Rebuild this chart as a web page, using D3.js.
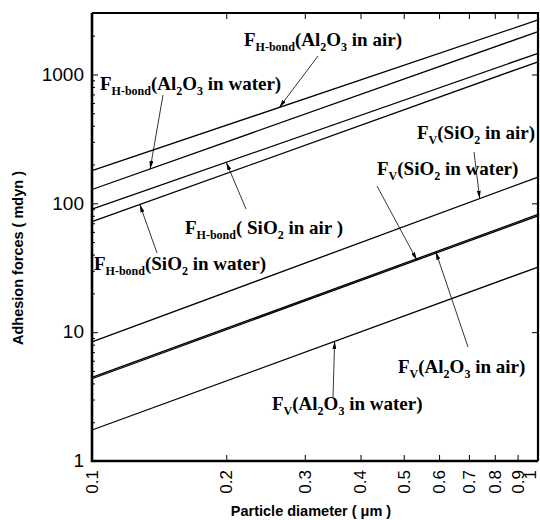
<!DOCTYPE html>
<html>
<head>
<meta charset="utf-8">
<script src="https://cdn.jsdelivr.net/npm/d3@7"></script>
<style>
  body { margin: 0; background: #fff; }
  svg { display: block; }
</style>
</head>
<body>
<div id="container"></div>
<script>
// particle diameter (um) at both ends of every line
let diameters = [0.1, 1];

// adhesion forces (mdyn) at d = 0.1 and d = 1
let hAl2O3Air = [179, 2650];
let hAl2O3Water = [128, 2150];
let hSiO2Air = [90, 1460];
let hSiO2Water = [72, 1255];
let vSiO2Air = [8.4, 160];
let vSiO2Water = [4.35, 80];
let vAl2O3Air = [4.45, 82];
let vAl2O3Water = [1.74, 32];

let xTicks = [0.1, 0.2, 0.3, 0.4, 0.5, 0.6, 0.7, 0.8, 0.9, 1];
let yMajor = [1, 10, 100, 1000];

let series = [hAl2O3Air, hAl2O3Water, hSiO2Air, hSiO2Water,
              vSiO2Air, vSiO2Water, vAl2O3Air, vAl2O3Water];

// labels: segments of [text, subscript?]
let labels = [
    { seg: [["F"], ["H-bond", 1], ["(Al"], ["2", 1], ["O"], ["3", 1], [" in air)"]], tx: 244, ty: 46, ax: 318, ay: 56, on: hAl2O3Air, at: 0.263 },
    { seg: [["F"], ["H-bond", 1], ["(Al"], ["2", 1], ["O"], ["3", 1], [" in water)"]], tx: 100, ty: 90, ax: 163, ay: 95, on: hAl2O3Water, at: 0.135 },
    { seg: [["F"], ["H-bond", 1], ["( SiO"], ["2", 1], [" in air )"]], tx: 185, ty: 234, ax: 246, ay: 209, on: hSiO2Air, at: 0.2 },
    { seg: [["F"], ["H-bond", 1], ["(SiO"], ["2", 1], [" in water)"]], tx: 94, ty: 270, ax: 157, ay: 253, on: hSiO2Water, at: 0.128 },
    { seg: [["F"], ["V", 1], ["(SiO"], ["2", 1], [" in air)"]], tx: 417, ty: 139, ax: 474, ay: 152, on: vSiO2Air, at: 0.74 },
    { seg: [["F"], ["V", 1], ["(SiO"], ["2", 1], [" in water)"]], tx: 377, ty: 175, ax: 377, ay: 186, on: vSiO2Water, at: 0.535 },
    { seg: [["F"], ["V", 1], ["(Al"], ["2", 1], ["O"], ["3", 1], [" in air)"]], tx: 398, ty: 373, ax: 468, ay: 347, on: vAl2O3Air, at: 0.59 },
    { seg: [["F"], ["V", 1], ["(Al"], ["2", 1], ["O"], ["3", 1], [" in water)"]], tx: 272, ty: 410, ax: 333, ay: 397, on: vAl2O3Water, at: 0.35 }
];

let width = 540;
let height = 520;
let mLeft = 92, mRight = 538, mTop = 13, mBottom = 461;

let svg = d3.select('#container')
    .append("svg")
    .attr("width", width)
    .attr("height", height);

let x = d3.scaleLog().domain([0.1, 1]).range([mLeft, mRight]);
let y = d3.scaleLog().domain([1, 3000]).range([mBottom, mTop]);

//lines
let line = d3.line()
    .x((d, i) => x(diameters[i]))
    .y(d => y(d));

svg.selectAll("path.series")
    .data(series)
    .enter()
    .append("path")
    .attr("class", "series")
    .attr("d", line)
    .attr("fill", "none")
    .attr("stroke", "#000")
    .attr("stroke-width", 1.3);

//axes with inward ticks
let yMinor = [];
for (let p = 0; p < 4; p++) {
    for (let m = 2; m <= 9; m++) {
        let v = m * Math.pow(10, p);
        if (v < 3000) yMinor.push(v);
    }
}

svg.append("g")
    .attr("transform", `translate(${mLeft},0)`)
    .call(d3.axisRight(y).tickValues(yMinor).tickSize(3).tickFormat(""))
    .call(g => g.select(".domain").remove());
svg.append("g")
    .attr("transform", `translate(${mLeft},0)`)
    .call(d3.axisRight(y).tickValues(yMajor).tickSize(6).tickFormat(""))
    .call(g => g.select(".domain").remove());
svg.append("g")
    .attr("transform", `translate(${mRight},0)`)
    .call(d3.axisLeft(y).tickValues(yMajor).tickSize(6).tickFormat(""))
    .call(g => g.select(".domain").remove());

let innerX = xTicks.slice(1, -1);
svg.append("g")
    .attr("transform", `translate(0,${mBottom})`)
    .call(d3.axisTop(x).tickValues(innerX).tickSize(6).tickFormat(""))
    .call(g => g.select(".domain").remove());
svg.append("g")
    .attr("transform", `translate(0,${mTop})`)
    .call(d3.axisBottom(x).tickValues(innerX).tickSize(6).tickFormat(""))
    .call(g => g.select(".domain").remove());

svg.selectAll(".tick line").attr("stroke", "#000").attr("stroke-width", 1);

//frame
svg.append("path")
    .attr("d", `M${mLeft},${mTop}H${mRight}V${mBottom}`)
    .attr("fill", "none")
    .attr("stroke", "#000")
    .attr("stroke-width", 2.2);
svg.append("path")
    .attr("d", `M${mLeft},${mTop}V${mBottom}H${mRight}`)
    .attr("fill", "none")
    .attr("stroke", "#000")
    .attr("stroke-width", 2.6);

//tick labels
svg.selectAll("text.ylab")
    .data(yMajor)
    .enter()
    .append("text")
    .attr("x", mLeft - 8)
    .attr("y", d => y(d))
    .attr("dy", "0.33em")
    .attr("text-anchor", "end")
    .attr("font-family", "Liberation Sans, Arial, sans-serif")
    .attr("font-size", 19)
    .text(d => d);

svg.selectAll("text.xlab")
    .data(xTicks)
    .enter()
    .append("text")
    .attr("transform", d => `translate(${Math.min(x(d), width - 10)},${mBottom + 9}) rotate(-90)`)
    .attr("dy", "0.35em")
    .attr("text-anchor", "end")
    .attr("font-family", "Liberation Sans, Arial, sans-serif")
    .attr("font-size", 17)
    .text(d => d);

//axis titles
svg.append("text")
    .attr("x", 311)
    .attr("y", 516)
    .attr("text-anchor", "middle")
    .attr("font-family", "Liberation Sans, Arial, sans-serif")
    .attr("font-weight", "bold")
    .attr("font-size", 14.5)
    .text("Particle diameter ( \u03bcm )");

svg.append("text")
    .attr("transform", "translate(23,258) rotate(-90)")
    .attr("text-anchor", "middle")
    .attr("font-family", "Liberation Sans, Arial, sans-serif")
    .attr("font-weight", "bold")
    .attr("font-size", 14.5)
    .text("Adhesion forces ( mdyn )");

//annotation arrows
svg.append("defs").append("marker")
    .attr("id", "head")
    .attr("markerUnits", "userSpaceOnUse")
    .attr("viewBox", "0 0 8 4")
    .attr("refX", 8)
    .attr("refY", 2)
    .attr("markerWidth", 8)
    .attr("markerHeight", 4)
    .attr("orient", "auto")
    .append("path")
    .attr("d", "M0,0L8,2L0,4Z")
    .attr("fill", "#000");

// point on a straight log-log line at diameter d
function onLine(vals, d) {
    let t = (Math.log(d) - Math.log(diameters[0])) / (Math.log(diameters[1]) - Math.log(diameters[0]));
    return Math.exp(Math.log(vals[0]) + t * (Math.log(vals[1]) - Math.log(vals[0])));
}

svg.selectAll("line.arrow")
    .data(labels)
    .enter()
    .append("line")
    .attr("x1", d => d.ax)
    .attr("y1", d => d.ay)
    .attr("x2", d => x(d.at))
    .attr("y2", d => y(onLine(d.on, d.at)))
    .attr("stroke", "#000")
    .attr("stroke-width", 0.8)
    .attr("marker-end", "url(#head)");

//annotation texts
let notes = svg.selectAll("text.note")
    .data(labels)
    .enter()
    .append("text")
    .attr("x", d => d.tx)
    .attr("y", d => d.ty)
    .attr("font-family", "Liberation Serif, Times New Roman, serif")
    .attr("font-weight", "bold")
    .attr("font-size", 19);

notes.each(function (d) {
    let t = d3.select(this);
    let down = false;
    d.seg.forEach(s => {
        let span = t.append("tspan").text(s[0]);
        if (s[1] && !down) { span.attr("dy", 5); down = true; }
        else if (!s[1] && down) { span.attr("dy", -5); down = false; }
        if (s[1]) span.attr("font-size", 12);
    });
});
</script>
</body>
</html>
